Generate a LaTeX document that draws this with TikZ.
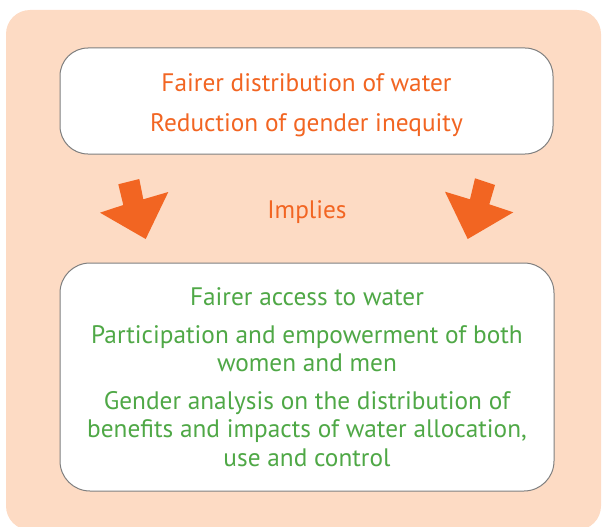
\documentclass[tikz,border=0pt]{standalone}
\usepackage{fontspec}
\setmainfont{PT Sans}
\definecolor{peach}{HTML}{FDDBC4}
\definecolor{orangeA}{HTML}{F26522}
\definecolor{greenA}{HTML}{4FA846}
\definecolor{edgegray}{HTML}{7F7F7F}
\tikzset{
  box/.style={draw=edgegray, line width=1pt, fill=white, rounded corners=28pt, inner sep=0pt, align=center},
  txt/.style={font=\fontsize{25.3}{28.5}\selectfont},
  blockarrow/.style={fill=orangeA}
}
\begin{document}
\begin{tikzpicture}[x=1pt,y=-1pt]
\useasboundingbox (0,0) rectangle (602,527);
\fill[peach, rounded corners=24pt] (6,10) rectangle (601,530);
\node[box, txt, text=orangeA, minimum width=493pt, minimum height=106pt] (top) at (306.5,101)
  {\rule{0pt}{26pt}Fairer distribution of water\\[11pt]Reduction of gender inequity};
\node[txt, text=orangeA] (impl) at (307,212) {Implies};
\node[box, txt, text=greenA, rounded corners=30pt, minimum width=494pt, minimum height=228pt] (bot) at (307,377)
  {Fairer access to water\\[9pt]Participation and empowerment of both\\women and men\\[9pt]Gender analysis on the distribution of\\benefits and impacts of water allocation,\\use and control};
\fill[blockarrow] (118.3,184.3) -- (139.3,179) -- (143.3,199.3) -- (168.3,192) -- (145.7,239) -- (100,212.7) -- (123.3,205) -- cycle;
\fill[blockarrow] (475,178.3) -- (495,185) -- (489.3,204.3) -- (513.3,212.3) -- (467.7,239) -- (445,191.7) -- (470,199.3) -- cycle;
\end{tikzpicture}
\end{document}
